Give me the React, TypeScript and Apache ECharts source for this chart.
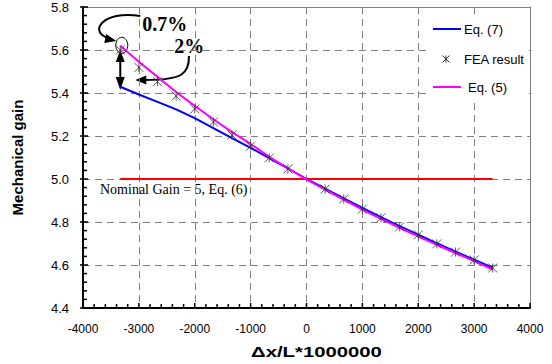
import React, { useEffect, useRef } from 'react';
import * as echarts from 'echarts';

// Δx/L*1000000 positions of the computed curves
const curveX = [-3333, -3000, -2667, -2333, -2000, -1667, -1333, -1000, -667, -333, 0, 333, 667, 1000, 1333, 1667, 2000, 2333, 2667, 3000, 3333];
// Eq. (7) mechanical gain
const eq7Values = [5.429, 5.393, 5.359, 5.324, 5.283, 5.237, 5.19, 5.145, 5.097, 5.05, 5.0, 4.955, 4.910, 4.866, 4.823, 4.781, 4.741, 4.701, 4.662, 4.625, 4.588];
// Eq. (5) mechanical gain
const eq5Values = [5.62, 5.545, 5.475, 5.405, 5.34, 5.278, 5.218, 5.163, 5.103, 5.05, 4.998, 4.95, 4.904, 4.858, 4.815, 4.773, 4.733, 4.694, 4.656, 4.618, 4.579];
// FEA results
const feaX = [-3333, -3000, -2667, -2333, -2000, -1667, -1333, -1000, -667, -333, 333, 667, 1000, 1333, 1667, 2000, 2333, 2667, 3000, 3333];
const feaValues = [5.60, 5.519, 5.453, 5.386, 5.326, 5.265, 5.205, 5.153, 5.098, 5.047, 4.953, 4.907, 4.860, 4.819, 4.777, 4.740, 4.698, 4.660, 4.623, 4.586];
// Nominal gain, Eq. (6)
const nominalX = [-3333, 3333];
const nominalValues = [5, 5];

const xTicks = { min: -4000, max: 4000, interval: 1000, minorSplit: 5 };
const yTicks = { min: 4.4, max: 5.8, interval: 0.2, minorSplit: 5 };

const legendNames = ['Eq. (7)', 'FEA result', 'Eq. (5)'];
const colors = { eq7: '#0000ff', eq5: '#ff00ff', nominal: '#ff0000', fea: '#333333' };

const SANS = 'Arial, "Liberation Sans", sans-serif';
const SERIF = '"Times New Roman", "Liberation Serif", serif';
const ASTERISK = 'path://M0,0L10,10M10,0L0,10M5,0L5,10';

const W = 552, H = 364;
const GRID = { left: 83, right: 22, top: 7, bottom: 56 };

export default function App() {
  const ref = useRef<HTMLDivElement>(null);
  useEffect(() => {
    if (!ref.current) return;
    const chart = echarts.init(ref.current, null, { renderer: 'svg' });
    const zip = (xs: number[], ys: number[]) => xs.map((x, i) => [x, ys[i]]);
    // linear map used only to anchor the annotations next to the data
    const px = (p: number[]) => [
      GRID.left + (p[0] - xTicks.min) / (xTicks.max - xTicks.min) * (W - GRID.left - GRID.right),
      H - GRID.bottom - (p[1] - yTicks.min) / (yTicks.max - yTicks.min) * (H - GRID.top - GRID.bottom),
    ];
    const a = px([feaX[0], feaValues[0]]);
    const n = px([xTicks.min, nominalValues[0]]);
    const o = px([0, yTicks.min]);
    const tr = px([xTicks.max, yTicks.max]);
    const ax = a[0], ay = a[1];
    const stroke = { stroke: '#000', lineWidth: 2, fill: null };
    const lx = tr[0] - 97, ly = tr[1] + 22;
    const star = (cx: number, cy: number, r: number) => [
      { type: 'line', z: 11, shape: { x1: cx - r, y1: cy - r, x2: cx + r, y2: cy + r }, style: { stroke: colors.fea, lineWidth: 1 } },
      { type: 'line', z: 11, shape: { x1: cx - r, y1: cy + r, x2: cx + r, y2: cy - r }, style: { stroke: colors.fea, lineWidth: 1 } },
      { type: 'line', z: 11, shape: { x1: cx, y1: cy - r, x2: cx, y2: cy + r }, style: { stroke: colors.fea, lineWidth: 1 } },
    ];
    const legendText = { fontFamily: SANS, fontSize: 13, fill: '#000', verticalAlign: 'middle' };

    const frameAxis = {
      axisLine: { show: true, onZero: false, lineStyle: { color: '#808080', width: 1 } },
      axisTick: { show: false }, axisLabel: { show: false }, splitLine: { show: false },
    };

    // tick marks drawn through the axes' own scales (inside ticks, Excel style)
    const renderTicks = (params: any, api: any) => {
      const children: any[] = [];
      const tickStyle = { stroke: '#000', lineWidth: 1.5 };
      const xStep = xTicks.interval / xTicks.minorSplit;
      const xCount = Math.round((xTicks.max - xTicks.min) / xStep);
      for (let i = 0; i <= xCount; i++) {
        const v = xTicks.min + i * xStep;
        const p = api.coord([v, yTicks.min]);
        const len = i % xTicks.minorSplit === 0 ? 5 : 4;
        children.push({ type: 'line', shape: { x1: p[0], y1: p[1], x2: p[0], y2: p[1] - len }, style: tickStyle });
      }
      const yStep = yTicks.interval / yTicks.minorSplit;
      const yCount = Math.round((yTicks.max - yTicks.min) / yStep);
      for (let i = 0; i <= yCount; i++) {
        const v = yTicks.min + i * yStep;
        const p = api.coord([xTicks.min, v]);
        const major = i % yTicks.minorSplit === 0;
        children.push({ type: 'line', shape: { x1: p[0] - (major ? 3 : 0), y1: p[1], x2: p[0] + (major ? 5 : 4), y2: p[1] }, style: tickStyle });
      }
      return { type: 'group', children };
    };

    chart.setOption({
      animation: false,
      grid: GRID,
      xAxis: [
        {
          type: 'value', min: xTicks.min, max: xTicks.max, interval: xTicks.interval,
          axisLine: { show: true, onZero: false, lineStyle: { color: '#000', width: 2 } },
          axisTick: { show: false },
          axisLabel: { fontFamily: SANS, fontSize: 12, color: '#000', margin: 15, formatter: (v: number) => String(v) },
          splitLine: { show: true, lineStyle: { color: '#808080', type: [7, 5], width: 1 } },
        },
        { type: 'value', position: 'top', min: xTicks.min, max: xTicks.max, interval: xTicks.interval, ...frameAxis },
      ],
      yAxis: [
        {
          type: 'value', min: yTicks.min, max: yTicks.max, interval: yTicks.interval,
          name: 'Mechanical gain', nameLocation: 'middle', nameGap: 58,
          nameTextStyle: { fontFamily: SANS, fontSize: 15, fontWeight: 'bold', color: '#000' },
          axisLine: { show: true, onZero: false, lineStyle: { color: '#000', width: 2 } },
          axisTick: { show: false },
          axisLabel: { fontFamily: SANS, fontSize: 13, color: '#000', margin: 14, formatter: (v: number) => v.toFixed(1) },
          splitLine: { show: true, lineStyle: { color: '#808080', type: [7, 5], width: 1 } },
        },
        { type: 'value', position: 'right', min: yTicks.min, max: yTicks.max, interval: yTicks.interval, ...frameAxis },
      ],
      series: [
        { name: 'Nominal', type: 'line', data: zip(nominalX, nominalValues), showSymbol: false, symbol: 'none', lineStyle: { color: colors.nominal, width: 2 }, z: 2 },
        { name: legendNames[0], type: 'line', data: zip(curveX, eq7Values), showSymbol: false, symbol: 'none', lineStyle: { color: colors.eq7, width: 2 }, z: 3 },
        { name: legendNames[2], type: 'line', data: zip(curveX, eq5Values), showSymbol: false, symbol: 'none', lineStyle: { color: colors.eq5, width: 2 }, z: 4 },
        { name: legendNames[1], type: 'scatter', data: zip(feaX, feaValues), symbol: ASTERISK, symbolSize: 9,
          itemStyle: { color: 'rgba(0,0,0,0)', borderColor: colors.fea, borderWidth: 1 }, z: 5 },
        { name: 'ticks', type: 'custom', data: [[0, 5]], renderItem: renderTicks, clip: false, silent: true, z: 6 },
      ],
      graphic: [
        { type: 'text', x: o[0] + 10, y: o[1] + 44, scaleX: 1.45, style: { text: 'Δx/L*1000000', fontFamily: SANS, fontSize: 14, fontWeight: 'bold', fill: '#000', align: 'center', verticalAlign: 'middle' } },
        // legend box
        { type: 'rect', z: 10, shape: { x: lx - 2, y: ly - 11, width: 98, height: 80 }, style: { fill: '#fff' } },
        { type: 'line', z: 11, shape: { x1: lx, y1: ly, x2: lx + 28, y2: ly }, style: { stroke: colors.eq7, lineWidth: 2 } },
        { type: 'text', z: 11, x: lx + 31, y: ly, style: { text: legendNames[0], ...legendText } },
        ...star(lx + 13, ly + 30, 3.5),
        { type: 'text', z: 11, x: lx + 31, y: ly + 30, style: { text: legendNames[1], ...legendText } },
        { type: 'line', z: 11, shape: { x1: lx, y1: ly + 58, x2: lx + 28, y2: ly + 58 }, style: { stroke: colors.eq5, lineWidth: 2 } },
        { type: 'text', z: 11, x: lx + 35, y: ly + 58, style: { text: legendNames[2], ...legendText } },
        // nominal label
        { type: 'text', x: n[0] + 17, y: n[1] + 10, style: { text: 'Nominal Gain = 5, Eq. (6)', fontFamily: SERIF, fontSize: 14, fill: '#000', verticalAlign: 'middle' } },
        // percentage annotations
        { type: 'text', x: ax + 22, y: ay - 26, style: { text: '0.7%', fontFamily: SERIF, fontSize: 20, fontWeight: 'bold', fill: '#000', verticalAlign: 'middle' } },
        { type: 'text', x: ax + 54, y: ay - 4, style: { text: '2%', fontFamily: SERIF, fontSize: 20, fontWeight: 'bold', fill: '#000', verticalAlign: 'middle' } },
        { type: 'ellipse', shape: { cx: ax + 1.5, cy: ay - 4.7, rx: 6, ry: 8 }, style: { stroke: '#000', lineWidth: 1, fill: null } },
        { type: 'line', shape: { x1: ax, y1: ay + 8, x2: ax, y2: ay + 32 }, style: stroke },
        { type: 'polygon', shape: { points: [[ax, ay], [ax - 4.5, ay + 12], [ax + 4.5, ay + 12]] }, style: { fill: '#000' } },
        { type: 'polygon', shape: { points: [[ax, ay + 40], [ax - 4.5, ay + 27], [ax + 4.5, ay + 27]] }, style: { fill: '#000' } },
        { type: 'bezierCurve', shape: { x1: ax + 20, y1: ay - 34, cpx1: ax - 18, cpy1: ay - 40, cpx2: ax - 32, cpy2: ay - 18, x2: ax - 12, y2: ay - 12 }, style: stroke },
        { type: 'polygon', shape: { points: [[ax - 4, ay - 9], [ax - 14, ay - 16], [ax - 16, ay - 7]] }, style: { fill: '#000' } },
        { type: 'bezierCurve', shape: { x1: ax + 68.7, y1: ay + 6, cpx1: ax + 69, cpy1: ay + 24, cpx2: ax + 62, cpy2: ay + 30, x2: ax + 25, y2: ay + 30 }, style: stroke },
        { type: 'polygon', shape: { points: [[ax + 15, ay + 30], [ax + 26, ay + 25.5], [ax + 26, ay + 34.5]] }, style: { fill: '#000' } },
      ],
    });
    return () => chart.dispose();
  }, []);
  return <div ref={ref} style={{ width: W, height: H, position: 'absolute', left: 0, top: 0 }} />;
}
